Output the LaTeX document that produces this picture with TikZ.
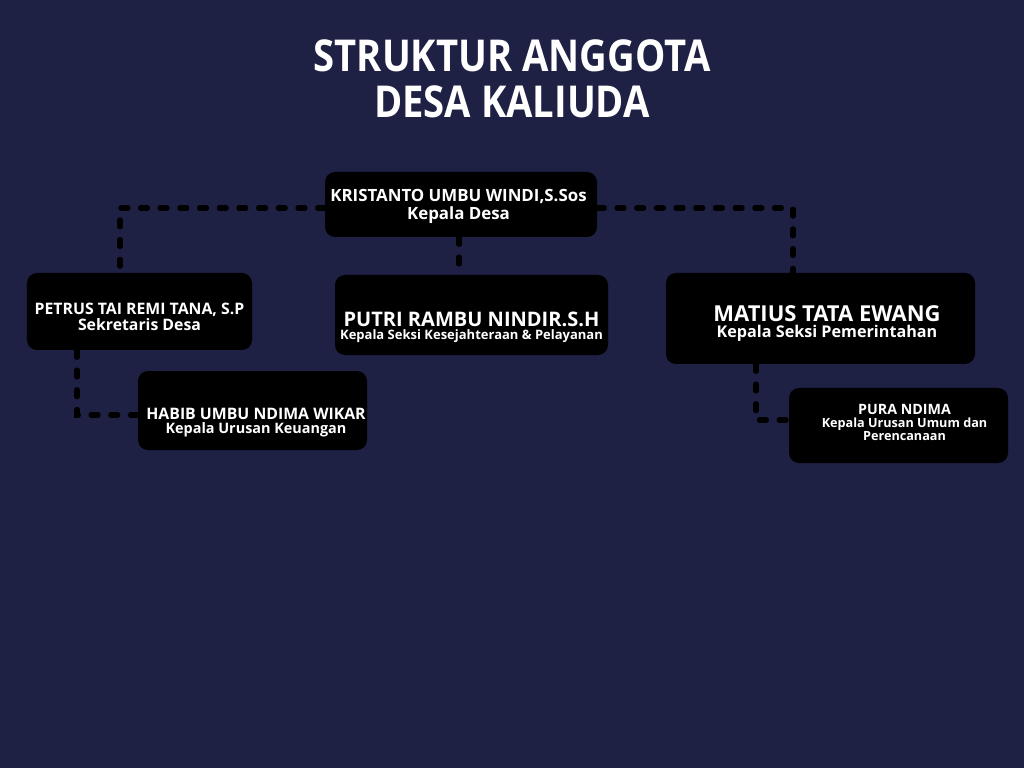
\documentclass[tikz,border=0pt]{standalone}
\usepackage{fontspec}
\setmainfont{Open Sans}
\newfontfamily\judulfont[FakeStretch=0.87]{Open Sans}
\usepackage{tikz}
\usetikzlibrary{positioning}
\definecolor{bgnavy}{HTML}{1E2044}

\begin{document}
\begin{tikzpicture}[
				box/.style={fill=black, rounded corners=0.2cm, inner sep=0pt}
				,teks/.style={inner sep=0pt, align=center, text=white}
				,link/.style={draw=black, line width=2.9pt, line cap=round, dash pattern=on 4pt off 7.2pt}
				]
				\fill[bgnavy] (0,0) rectangle (20.48,-15.36);
				\useasboundingbox (0,0) rectangle (20.48,-15.36);
				
				\node[teks, font=\judulfont\bfseries\fontsize{25}{26}\selectfont] (judul) at (10.24,-1.57) {STRUKTUR ANGGOTA\\DESA KALIUDA};
				
				% kotak
				\node[box, minimum width=5.44cm, minimum height=1.3cm] (kades) at (9.22,-4.09) {};
				\node[box, minimum width=4.5cm, minimum height=1.54cm] (sekdes) at (2.79,-6.23) {};
				\node[box, minimum width=5.46cm, minimum height=1.6cm] (kasikesra) at (9.43,-6.3) {};
				\node[box, minimum width=6.18cm, minimum height=1.82cm] (kasipem) at (16.41,-6.37) {};
				\node[box, minimum width=4.58cm, minimum height=1.58cm] (kaurkeu) at (5.05,-8.21) {};
				\node[box, minimum width=4.38cm, minimum height=1.5cm] (kaurum) at (17.97,-8.51) {};
				
				% nama dan jabatan
				\node[teks, xshift=-0.05cm, yshift=-0.04cm, font=\bfseries\fontsize{9.6}{10.2}\selectfont] (kadesT) at (kades)
				{KRISTANTO UMBU WINDI,S.Sos\\Kepala Desa};
				\node[teks, yshift=-0.1cm, font=\bfseries\fontsize{9}{9}\selectfont] (sekdesT) at (sekdes)
				{PETRUS TAI REMI TANA, S.P\\Sekretaris Desa};
				\node[teks, yshift=-0.24cm, font=\bfseries\fontsize{7.4}{7.6}\selectfont] (kasikesraT) at (kasikesra)
				{\fontsize{11.4}{11}\selectfont PUTRI RAMBU NINDIR.S.H\\Kepala Seksi Kesejahteraan \& Pelayanan};
				\node[teks, xshift=0.13cm, yshift=-0.1cm, font=\bfseries\fontsize{9.2}{9.6}\selectfont] (kasipemT) at (kasipem)
				{\fontsize{12.5}{12}\selectfont MATIUS TATA EWANG\\Kepala Seksi Pemerintahan};
				\node[teks, xshift=0.07cm, yshift=-0.24cm, font=\bfseries\fontsize{8.2}{8.2}\selectfont] (kaurkeuT) at (kaurkeu)
				{\fontsize{9}{9}\selectfont HABIB UMBU NDIMA WIKAR\\Kepala Urusan Keuangan};
				\node[teks, xshift=0.12cm, yshift=0.06cm, font=\bfseries\fontsize{7.2}{7.6}\selectfont] (kaurumT) at (kaurum)
				{\fontsize{8.1}{8}\selectfont PURA NDIMA\\Kepala Urusan Umum dan\\Perencanaan};
				
				\draw[link] ([yshift=-0.07cm]kades.west) -| ([xshift=-0.39cm]sekdes.north);
				\draw[link] ([yshift=-0.07cm]kades.east) -| ([xshift=-0.55cm]kasipem.north);
				\draw[link] ([xshift=-0.04cm]kades.south) -- ([xshift=-0.04cm]kades.south |- kasikesra.north);
				\draw[link] ([xshift=-1.25cm]sekdes.south) |- ([yshift=-0.09cm]kaurkeu.west);
				\draw[link] ([xshift=-1.29cm]kasipem.south) |- ([yshift=0.11cm]kaurum.west);
			\end{tikzpicture}
\end{document}
